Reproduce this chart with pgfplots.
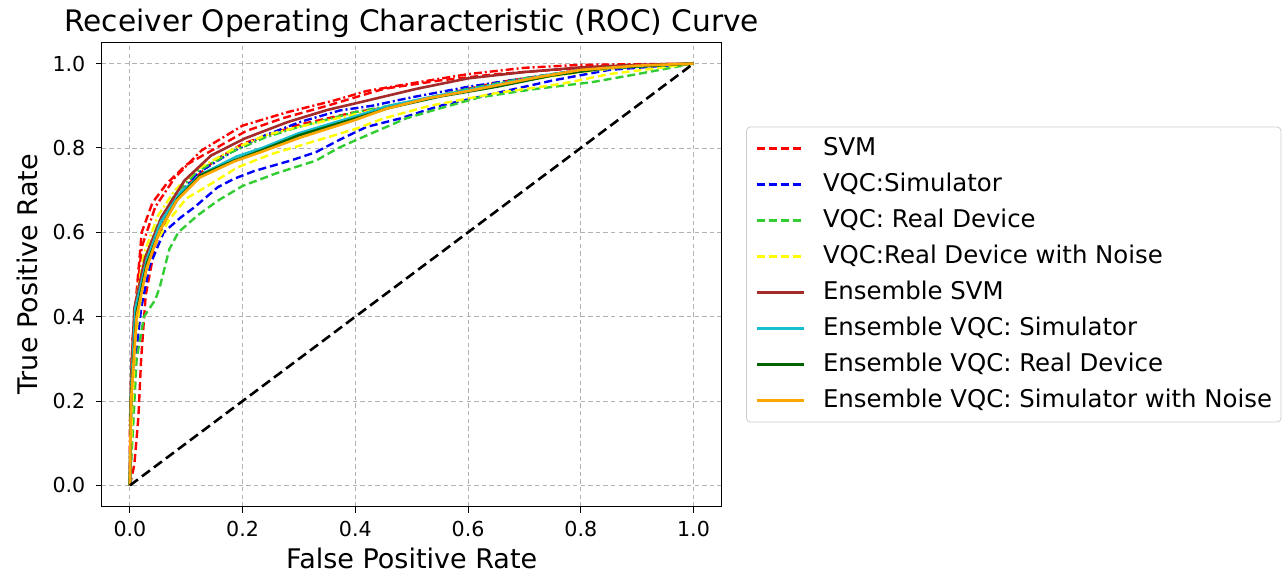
\documentclass[border=0pt]{standalone}
\usepackage{fontspec}
\setmainfont{DejaVu Sans}
\usepackage{pgfplots}
\pgfplotsset{compat=1.18}

\definecolor{cRed}{RGB}{255,0,0}
\definecolor{cBlue}{RGB}{0,0,255}
\definecolor{cLime}{RGB}{50,205,50}
\definecolor{cYellow}{RGB}{255,255,0}
\definecolor{cBrown}{RGB}{165,42,42}
\definecolor{cCyan}{RGB}{23,190,207}
\definecolor{cDkGreen}{RGB}{0,100,0}
\definecolor{cOrange}{RGB}{255,165,0}

\pgfplotsset{
  fold/.style={line width=1.2pt, dash pattern=on 4pt off 2pt},
  folddd/.style={line width=1.2pt, dash pattern=on 4pt off 1.5pt on 1pt off 1.5pt},
  ens/.style={line width=1.3pt, solid},
}

\begin{document}
\begin{tikzpicture}
\useasboundingbox (-50.85pt,-33.25pt) rectangle (590.65pt,253.25pt);
\begin{axis}[
  at={(0,0)}, anchor=south west,
  scale only axis, width=310pt, height=232pt,
  xmin=-0.05, xmax=1.05, ymin=-0.05, ymax=1.05,
  xtick={0,0.2,0.4,0.6,0.8,1.0},
  ytick={0,0.2,0.4,0.6,0.8,1.0},
  tick align=outside, tick pos=left,
  major tick length=3pt,
  tick style={black, line width=0.5pt},
  axis line style={line width=0.6pt},
  grid=major,
  major grid style={gray!60, line width=0.4pt, dash pattern=on 2.2pt off 1.6pt},
  /pgf/number format/.cd, fixed, fixed zerofill, precision=1, assume math mode=true,
  /pgfplots/.cd,
  ticklabel style={font=\fontsize{10.3}{12}\selectfont},
  xticklabel style={inner sep=0pt, anchor=north, yshift=-4pt},
  yticklabel style={inner sep=0pt, anchor=east, xshift=-5pt},
  every axis title shift=0pt,
  title={Receiver Operating Characteristic (ROC) Curve},
  title style={at={(axis description cs:0.5,1.0233)}, anchor=base, yshift=0pt, inner sep=0pt, font=\fontsize{14.8}{17}\selectfont},
  xlabel={False Positive Rate},
  xlabel style={at={(axis description cs:0.5,-0.1332)}, anchor=base, inner sep=0pt, font=\fontsize{13.5}{16}\selectfont},
  ylabel={True Positive Rate},
  ylabel style={at={(axis description cs:-0.1035,0.5)}, anchor=base, inner sep=0pt, font=\fontsize{13.5}{16}\selectfont},
  legend image code/.code={\draw[#1] (0pt,0pt) -- (23.5pt,0pt);},
  legend style={
    at={(axis description cs:1,0.5)}, anchor=west, xshift=12.15pt,
    draw=black!20, rounded corners=2pt,
    inner xsep=4.5pt, inner ysep=5pt,
    font=\fontsize{12.2}{14.5}\selectfont,
    nodes={inner sep=0pt, text height=9pt, text depth=2.5pt},
    row sep=6.5pt,
    /tikz/every odd column/.append style={column sep=9pt},
    cells={anchor=west},
  },
]

% SVM folds
\addplot[cRed, fold] coordinates {(0,0) (0.003,0.30) (0.012,0.46) (0.021,0.60) (0.040,0.67) (0.065,0.715) (0.100,0.76) (0.153,0.80) (0.206,0.84) (0.270,0.87) (0.350,0.90) (0.450,0.94) (0.550,0.96) (0.650,0.975) (0.800,0.99) (1,1)};
\addlegendentry{SVM}
\addplot[cRed, folddd, forget plot] coordinates {(0,0) (0,0.15) (0.005,0.35) (0.009,0.41) (0.021,0.565) (0.045,0.66) (0.080,0.73) (0.127,0.794) (0.200,0.853) (0.280,0.885) (0.361,0.912) (0.420,0.935) (0.508,0.955) (0.600,0.975) (0.700,0.99) (0.800,0.997) (1,1)};
\addplot[cRed, fold, forget plot] coordinates {(0,0) (0.008,0.05) (0.015,0.16) (0.020,0.30) (0.028,0.45) (0.045,0.57) (0.070,0.65) (0.100,0.71) (0.150,0.77) (0.200,0.81) (0.300,0.855) (0.400,0.885) (0.450,0.895) (0.550,0.925) (0.650,0.955) (0.800,0.985) (1,1)};

% VQC simulator folds
\addplot[cBlue, fold] coordinates {(0,0) (0.004,0.15) (0.010,0.30) (0.020,0.42) (0.035,0.52) (0.060,0.60) (0.090,0.635) (0.115,0.66) (0.156,0.707) (0.185,0.727) (0.220,0.745) (0.285,0.77) (0.330,0.79) (0.373,0.82) (0.420,0.85) (0.480,0.87) (0.550,0.90) (0.650,0.93) (0.750,0.96) (0.850,0.985) (1,1)};
\addlegendentry{VQC:Simulator}
\addplot[cBlue, folddd, forget plot] coordinates {(0,0) (0.003,0.25) (0.010,0.42) (0.025,0.52) (0.045,0.60) (0.075,0.67) (0.120,0.74) (0.180,0.79) (0.240,0.83) (0.303,0.862) (0.373,0.889) (0.430,0.90) (0.500,0.92) (0.600,0.945) (0.700,0.965) (0.800,0.985) (1,1)};

% VQC real device folds
\addplot[cLime, fold] coordinates {(0,0) (0.005,0.12) (0.012,0.30) (0.025,0.40) (0.045,0.44) (0.053,0.47) (0.070,0.56) (0.086,0.60) (0.120,0.64) (0.156,0.675) (0.200,0.71) (0.260,0.74) (0.330,0.77) (0.370,0.80) (0.400,0.818) (0.490,0.87) (0.540,0.89) (0.620,0.92) (0.720,0.94) (0.820,0.956) (0.900,0.975) (1,1)};
\addlegendentry{VQC: Real Device}
\addplot[cLime, folddd, forget plot] coordinates {(0,0) (0.003,0.22) (0.010,0.40) (0.025,0.53) (0.050,0.62) (0.080,0.69) (0.120,0.745) (0.180,0.79) (0.240,0.825) (0.300,0.85) (0.400,0.885) (0.500,0.91) (0.600,0.94) (0.700,0.965) (0.800,0.985) (1,1)};

% VQC real device with noise folds
\addplot[cYellow, fold] coordinates {(0,0) (0.004,0.18) (0.010,0.35) (0.022,0.47) (0.040,0.56) (0.070,0.63) (0.100,0.68) (0.144,0.715) (0.191,0.754) (0.250,0.785) (0.320,0.813) (0.400,0.845) (0.450,0.87) (0.532,0.90) (0.650,0.93) (0.766,0.952) (0.850,0.975) (1,1)};
\addlegendentry{VQC:Real Device with Noise}
\addplot[cYellow, folddd, forget plot] coordinates {(0,0) (0.003,0.25) (0.010,0.43) (0.025,0.55) (0.050,0.64) (0.080,0.70) (0.120,0.75) (0.180,0.795) (0.240,0.83) (0.300,0.85) (0.400,0.88) (0.500,0.91) (0.600,0.935) (0.700,0.96) (0.800,0.98) (0.900,0.995) (1,1)};

% ensembles
\addplot[cBrown, ens] coordinates {(0,0) (0.002,0.25) (0.008,0.42) (0.027,0.54) (0.056,0.636) (0.097,0.723) (0.144,0.782) (0.203,0.822) (0.279,0.861) (0.350,0.89) (0.420,0.912) (0.508,0.94) (0.600,0.965) (0.700,0.98) (0.800,0.991) (0.900,0.997) (1,1)};
\addlegendentry{Ensemble SVM}
\addplot[cCyan, ens] coordinates {(0,0) (0.002,0.22) (0.010,0.42) (0.030,0.535) (0.055,0.625) (0.090,0.695) (0.130,0.74) (0.190,0.78) (0.235,0.80) (0.300,0.835) (0.400,0.875) (0.460,0.90) (0.550,0.925) (0.650,0.95) (0.750,0.975) (0.850,0.99) (1,1)};
\addlegendentry{Ensemble VQC: Simulator}
\addplot[cDkGreen, ens] coordinates {(0,0) (0.002,0.21) (0.012,0.41) (0.030,0.525) (0.055,0.61) (0.085,0.68) (0.125,0.735) (0.185,0.77) (0.235,0.795) (0.300,0.83) (0.400,0.87) (0.460,0.895) (0.550,0.922) (0.650,0.945) (0.750,0.972) (0.850,0.99) (1,1)};
\addlegendentry{Ensemble VQC: Real Device}
\addplot[cOrange, ens] coordinates {(0,0) (0.002,0.20) (0.012,0.40) (0.030,0.517) (0.053,0.604) (0.083,0.675) (0.124,0.73) (0.185,0.768) (0.232,0.79) (0.303,0.825) (0.397,0.865) (0.455,0.893) (0.530,0.918) (0.600,0.935) (0.725,0.968) (0.800,0.985) (0.900,0.995) (1,1)};
\addlegendentry{Ensemble VQC: Simulator with Noise}

% chance line
\addplot[black, line width=1.3pt, dash pattern=on 5pt off 2.5pt, forget plot] coordinates {(0,0) (1,1)};
\end{axis}
\end{tikzpicture}
\end{document}
